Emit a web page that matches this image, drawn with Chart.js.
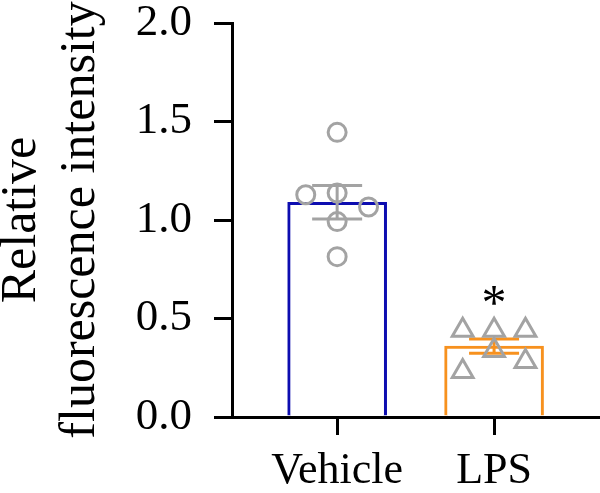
<!DOCTYPE html>
<html>
<head>
<meta charset="utf-8">
<script src="https://cdn.jsdelivr.net/npm/chart.js@4/dist/chart.umd.min.js"></script>
<style>
  html, body { margin: 0; padding: 0; background: #ffffff; }
  #wrap { width: 600px; height: 493px; position: relative; }
</style>
</head>
<body>
<div id="wrap"><canvas id="c"></canvas></div>
<script>
// ---- data ----
const categories = ['Vehicle', 'LPS'];
const categoryX = [0, 1];
const means = [1.09, 0.36];
const sems = [0.085, 0.036];
const significance = ['', '*'];

const vehicleOffsets = [-0.2, 0, 0, 0.2, 0, 0];
const vehicleValues = [1.128, 1.445, 1.137, 1.066, 0.992, 0.814];
const lpsOffsets = [-0.2, 0, 0.2, 0, 0.2, -0.2];
const lpsValues = [0.44, 0.44, 0.44, 0.338, 0.282, 0.231];

const yTicks = [0, 0.5, 1.0, 1.5, 2.0];
const yTitle = ['Relative', 'fluorescence intensity'];

// ---- styles ----
const barColors = ['#0d0db0', '#f7911e'];
const errorColors = ['#a3a3a3', '#f7911e'];
const pointColor = '#a3a3a3';
const serif = "'Liberation Serif', 'Times New Roman', serif";

const errorBarPlugin = {
  id: 'errorBars',
  afterDatasetDraw(chart, args) {
    if (args.index !== 0) return;
    const { ctx } = chart;
    const x = chart.scales.x, y = chart.scales.y;
    ctx.save();
    ctx.lineWidth = 3;
    ctx.lineCap = 'butt';
    categoryX.forEach((cx, i) => {
      const px = x.getPixelForValue(cx);
      const hi = y.getPixelForValue(means[i] + sems[i]);
      const lo = y.getPixelForValue(means[i] - sems[i]);
      const half = 25;
      ctx.strokeStyle = errorColors[i];
      ctx.beginPath();
      ctx.moveTo(px, hi); ctx.lineTo(px, lo);
      ctx.moveTo(px - half, hi); ctx.lineTo(px + half, hi);
      ctx.moveTo(px - half, lo); ctx.lineTo(px + half, lo);
      ctx.stroke();
    });
    ctx.restore();
  },
  afterDatasetsDraw(chart) {
    const { ctx } = chart;
    const x = chart.scales.x, y = chart.scales.y;
    ctx.save();
    ctx.fillStyle = '#000';
    ctx.font = '50px ' + serif;
    ctx.textAlign = 'center';
    ctx.textBaseline = 'alphabetic';
    categoryX.forEach((cx, i) => {
      if (!significance[i]) return;
      const px = x.getPixelForValue(cx);
      const top = y.getPixelForValue(means[i] + sems[i]);
      ctx.fillText(significance[i], px, top - 20);
    });
    ctx.restore();
  }
};

new Chart(document.getElementById('c'), {
  type: 'bar',
  data: {
    datasets: [
      {
        type: 'bar',
        data: categoryX.map((cx, i) => ({ x: cx, y: means[i] })),
        backgroundColor: '#ffffff',
        borderColor: barColors,
        borderWidth: 3,
        borderSkipped: 'bottom',
        barThickness: 99,
        order: 3
      },
      {
        type: 'scatter',
        data: vehicleValues.map((v, i) => ({ x: categoryX[0] + vehicleOffsets[i], y: v })),
        pointStyle: 'circle',
        pointRadius: 9,
        pointBorderWidth: 3,
        pointBorderColor: pointColor,
        pointBackgroundColor: 'rgba(0,0,0,0)',
        order: 1
      },
      {
        type: 'scatter',
        data: lpsValues.map((v, i) => ({ x: categoryX[1] + lpsOffsets[i], y: v })),
        pointStyle: 'triangle',
        pointRadius: 12,
        pointBorderWidth: 3,
        pointBorderColor: pointColor,
        pointBackgroundColor: 'rgba(0,0,0,0)',
        order: 1
      }
    ]
  },
  options: {
    responsive: true,
    maintainAspectRatio: false,
    animation: false,
    layout: { autoPadding: false, padding: { left: 0, right: 0, top: 0, bottom: 0 } },
    plugins: { legend: { display: false }, tooltip: { enabled: false } },
    scales: {
      x: {
        type: 'linear',
        min: -0.67,
        max: 1.675,
        offset: false,
        afterBuildTicks: (s) => { s.ticks = categoryX.map(v => ({ value: v })); },
        afterFit: (s) => { s.height = 76; s.paddingLeft = 0; s.paddingRight = 0; },
        ticks: {
          autoSkip: false,
          maxRotation: 0,
          padding: 10,
          color: '#000',
          font: { family: serif, size: 44 },
          callback: (v) => categories[categoryX.indexOf(v)]
        },
        grid: { offset: false, drawOnChartArea: false, drawTicks: true, tickLength: 18, color: '#000', lineWidth: 3 },
        border: { display: true, color: '#000', width: 3 }
      },
      y: {
        type: 'linear',
        min: 0,
        max: 2,
        afterBuildTicks: (s) => { s.ticks = yTicks.map(v => ({ value: v })); },
        afterFit: (s) => { s.width = 232; s.paddingTop = 23; s.paddingBottom = 0; },
        ticks: {
          padding: 22,
          color: '#000',
          font: { family: serif, size: 45, lineHeight: 1.0 },
          callback: (v) => Number(v).toFixed(1)
        },
        grid: { drawOnChartArea: false, drawTicks: true, tickLength: 18, color: '#000', lineWidth: 3 },
        border: { display: true, color: '#000', width: 3 },
        title: {
          display: true,
          text: yTitle,
          color: '#000',
          font: { family: serif, size: 50, lineHeight: 1.18 },
          padding: { top: -8, bottom: 0 }
        }
      }
    }
  },
  plugins: [errorBarPlugin]
});
</script>
</body>
</html>
